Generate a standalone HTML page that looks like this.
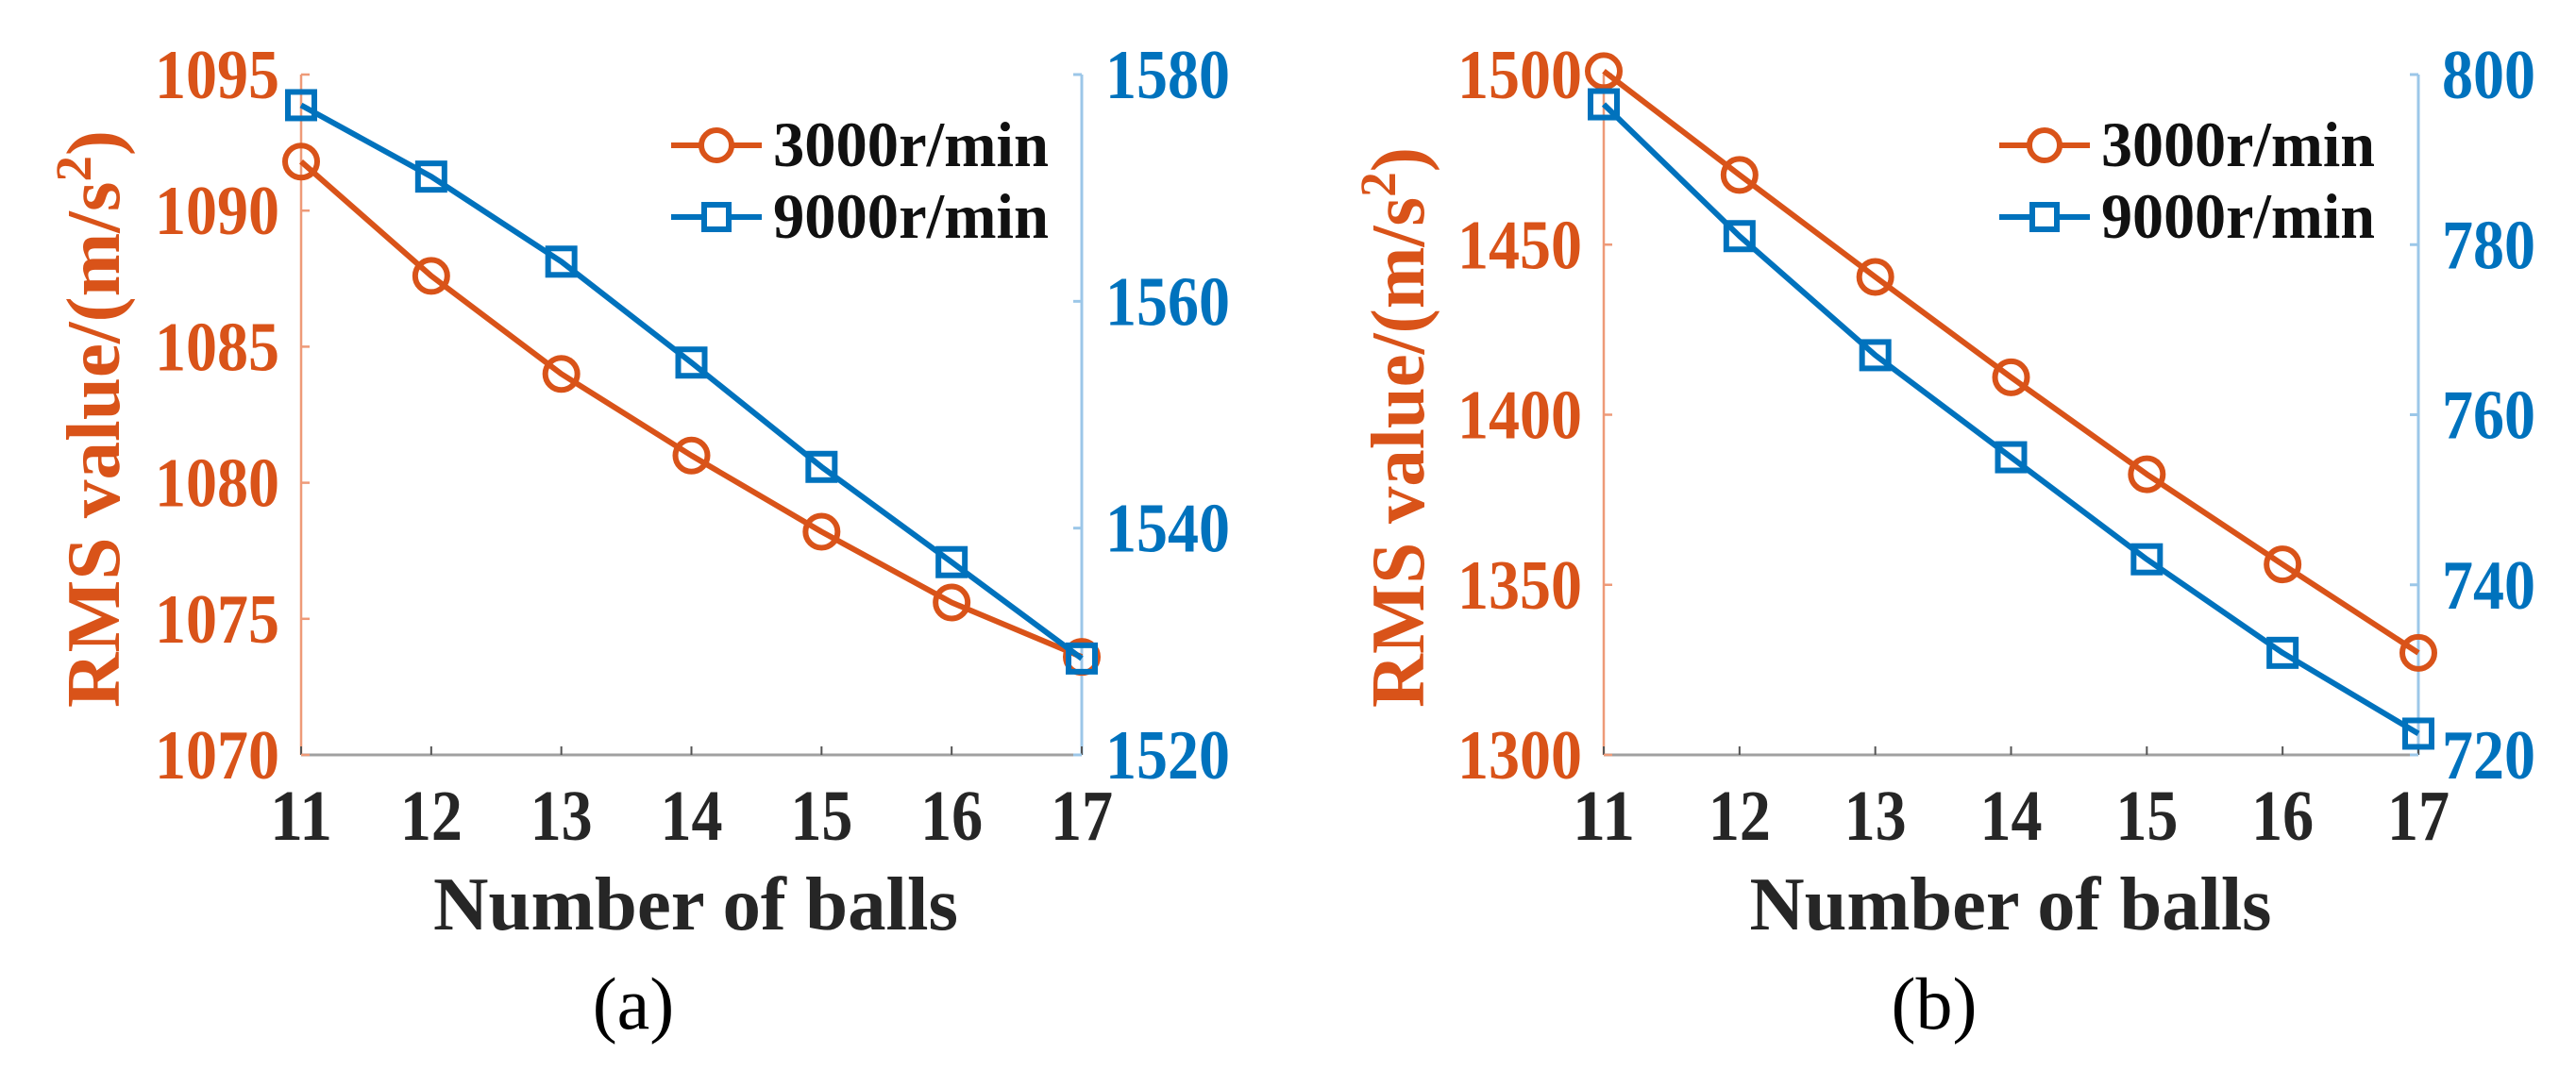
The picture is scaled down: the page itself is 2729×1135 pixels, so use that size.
<!DOCTYPE html>
<html><head><meta charset="utf-8"><style>
html,body{margin:0;padding:0;background:#fff;}
svg{display:block;}
svg text{font-family:"Liberation Serif","Times New Roman","DejaVu Serif",serif;}
</style></head>
<body>
<svg id="fig" width="2729" height="1135" viewBox="0 0 2729 1135" xmlns="http://www.w3.org/2000/svg" font-family="Liberation Serif, Times New Roman, DejaVu Serif, serif"></svg>
<script>
const categories = [11, 12, 13, 14, 15, 16, 17];
const aSeries3000 = [1091.8, 1087.6, 1084.0, 1081.0, 1078.2, 1075.6, 1073.6];
const aSeries9000 = [1577.3, 1571.0, 1563.5, 1554.6, 1545.4, 1537.0, 1528.5];
const bSeries3000 = [1501, 1470.5, 1440.5, 1411, 1382.5, 1356, 1330];
const bSeries9000 = [796.5, 781, 767, 755, 743, 732, 722.5];
const aLeftTicks = [1070, 1075, 1080, 1085, 1090, 1095];
const aRightTicks = [1520, 1540, 1560, 1580];
const bLeftTicks = [1300, 1350, 1400, 1450, 1500];
const bRightTicks = [720, 740, 760, 780, 800];
const legendLabels = ["3000r/min", "9000r/min"];

const NS = "http://www.w3.org/2000/svg";
const svg = document.getElementById("fig");
const ORANGE = "#D95319", BLUE = "#0072BD";
const FONT = "'Liberation Serif', 'Times New Roman', 'DejaVu Serif', serif";
function el(tag, attrs, parent, txt) {
  const e = document.createElementNS(NS, tag);
  for (const k in attrs) e.setAttribute(k, attrs[k]);
  if (tag === "text") e.setAttribute("font-family", FONT);
  if (txt !== undefined) e.textContent = txt;
  (parent || svg).appendChild(e);
  return e;
}

function panel(cfg) {
  const g = el("g", {});
  
  
  const x0 = cfg.x0, x1 = cfg.x1, yT = 79, yB = 800;
  const xs = v => x0 + (v - categories[0]) / (categories[categories.length - 1] - categories[0]) * (x1 - x0);
  const yl = v => yB - (v - cfg.lmin) / (cfg.lmax - cfg.lmin) * (yB - yT);
  const yr = v => yB - (v - cfg.rmin) / (cfg.rmax - cfg.rmin) * (yB - yT);

  const bx = el("line", {x1: x0, y1: yB, x2: x1, y2: yB, stroke: "#a0a0a0", "stroke-width": 3}, g);
  
  
  const la = el("line", {x1: x0, y1: yT, x2: x0, y2: yB, stroke: "#EE9A78", "stroke-width": 2.5}, g);
  
  
  const ra = el("line", {x1: x1, y1: yT, x2: x1, y2: yB, stroke: "#9CC7E8", "stroke-width": 3}, g);
  
  

  categories.forEach(c => {
    const x = xs(c);
    el("line", {x1: x, y1: yB, x2: x, y2: yB - 9, stroke: "#555", "stroke-width": 2}, g);
    const t = el("text", {x: x, y: 890, "text-anchor": "middle", "font-size": 76, "font-weight": "bold", fill: "#262626", textLength: 66, lengthAdjust: "spacingAndGlyphs"}, g, String(c));
    
    
  });
  cfg.lticks.forEach(v => {
    const y = yl(v);
    el("line", {x1: x0, y1: y, x2: x0 + 9, y2: y, stroke: "#EE9A78", "stroke-width": 2.5}, g);
    const t = el("text", {x: x0 - 23, y: y + 25, "text-anchor": "end", "font-size": 74, "font-weight": "bold", fill: ORANGE, textLength: 132, lengthAdjust: "spacingAndGlyphs"}, g, String(v));
    
    
  });
  cfg.rticks.forEach(v => {
    const y = yr(v);
    el("line", {x1: x1, y1: y, x2: x1 - 9, y2: y, stroke: "#9CC7E8", "stroke-width": 3}, g);
    const s = String(v);
    const t = el("text", {x: x1 + 25, y: y + 25, "text-anchor": "start", "font-size": 74, "font-weight": "bold", fill: BLUE, textLength: s.length * 33, lengthAdjust: "spacingAndGlyphs"}, g, s);
    
    
  });

  function series(vals, yf, color, shape, name) {
    const sg = el("g", {}, g);
    
    
    const pts = vals.map((v, i) => xs(categories[i]) + "," + yf(v)).join(" ");
    el("polyline", {points: pts, fill: "none", stroke: color, "stroke-width": 6, "stroke-linejoin": "round"}, sg);
    vals.forEach((v, i) => {
      const x = xs(categories[i]), y = yf(v);
      let m;
      if (shape === "circle") m = el("circle", {cx: x, cy: y, r: 17, fill: "none", stroke: color, "stroke-width": 6}, sg);
      else m = el("rect", {x: x - 14, y: y - 14, width: 28, height: 28, fill: "none", stroke: color, "stroke-width": 6}, sg);
      
      
    });
  }
  series(cfg.s3000, yl, ORANGE, "circle", "series-3000");
  series(cfg.s9000, yr, BLUE, "square", "series-9000");

  const lg = el("g", {}, g);
  
  
  [[ORANGE, "circle", 154], [BLUE, "square", 230]].forEach((d, i) => {
    const lx0 = cfg.legX, lx1 = cfg.legX + 96, mx = (lx0 + lx1) / 2, y = d[2];
    const eg = el("g", {}, lg);
    
    
    el("line", {x1: lx0, y1: y, x2: lx1, y2: y, stroke: d[0], "stroke-width": 6}, eg);
    if (d[1] === "circle") el("circle", {cx: mx, cy: y, r: 16, fill: "#fff", stroke: d[0], "stroke-width": 6}, eg);
    else el("rect", {x: mx - 13, y: y - 13, width: 26, height: 26, fill: "#fff", stroke: d[0], "stroke-width": 6}, eg);
    el("text", {x: lx1 + 12, y: y + 22, "font-size": 68, "font-weight": "bold", fill: "#111", textLength: cfg.legW, lengthAdjust: "spacingAndGlyphs"}, eg, legendLabels[i]);
  });

  const yt = el("text", {x: 0, y: 0, transform: `translate(${cfg.ylabX},${cfg.ylabY}) rotate(-90)`, "text-anchor": "middle", "font-size": 80, "font-weight": "bold", fill: ORANGE, textLength: cfg.ylabLen, lengthAdjust: "spacingAndGlyphs"}, g);
  
  
  yt.appendChild(document.createTextNode("RMS value/(m/s"));
  el("tspan", {dy: -30, "font-size": 54}, yt, "2");
  el("tspan", {dy: 30}, yt, ")");

  const xt = el("text", {x: cfg.xtX, y: 985, "text-anchor": "middle", "font-size": 80, "font-weight": "bold", fill: "#262626", textLength: cfg.xtLen, lengthAdjust: "spacingAndGlyphs"}, g, "Number of balls");
  
  
  const cap = el("text", {x: cfg.capX, y: 1090, "text-anchor": "middle", "font-size": 78, fill: "#000"}, g, cfg.cap);
  
  
}

panel({name: "panel-a", x0: 319, x1: 1146, lmin: 1070, lmax: 1095, rmin: 1520, rmax: 1580,
  lticks: aLeftTicks, rticks: aRightTicks, s3000: aSeries3000, s9000: aSeries9000,
  legX: 711, legW: 292, ylabX: 126, ylabY: 444, ylabLen: 612, xtX: 737, xtLen: 556, capX: 671, cap: "(a)"});
panel({name: "panel-b", x0: 1699, x1: 2562, lmin: 1300, lmax: 1500, rmin: 720, rmax: 800,
  lticks: bLeftTicks, rticks: bRightTicks, s3000: bSeries3000, s9000: bSeries9000,
  legX: 2118, legW: 290, ylabX: 1508, ylabY: 453, ylabLen: 594, xtX: 2130, xtLen: 553, capX: 2049, cap: "(b)"});
</script>
</body></html>
